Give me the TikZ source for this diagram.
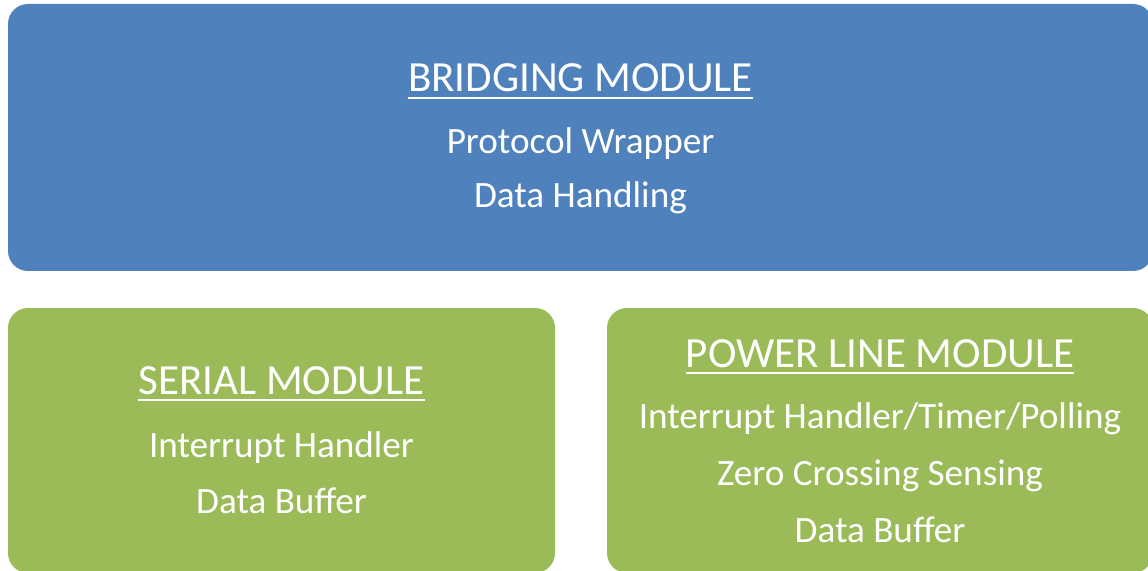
\documentclass[tikz,border=0pt]{standalone}
\usepackage{fontspec}
\setmainfont{Carlito}
\definecolor{modblue}{HTML}{4F81BD}
\definecolor{modgreen}{HTML}{9BBB59}
\tikzset{
  module/.style={rounded corners=20bp},
  heading/.style={text=white, inner sep=0pt, anchor=base, font=\fontsize{43bp}{50bp}\selectfont},
  item/.style={text=white, inner sep=0pt, anchor=base, font=\fontsize{37.2bp}{44bp}\selectfont},
  headrule/.style={draw=white, line width=2bp}
}
\begin{document}
\begin{tikzpicture}[x=1bp,y=-1bp]
  \useasboundingbox (0,0) rectangle (1148,571);
  % module panels
  \fill[modblue, module] (8,4) rectangle (1153,271);
  \fill[modgreen, module] (8,308) rectangle (555,573);
  \fill[modgreen, module] (607,308) rectangle (1153,573);

  % bridging module
  \node[heading] (bt) at (580.5,92) {BRIDGING MODULE};
  \node[item] (b1) at (580.5,154) {Protocol Wrapper};
  \node[item] (b2) at (580.5,208) {Data Handling};
  \draw[headrule] ([yshift=-6bp]bt.base west) -- ([yshift=-6bp]bt.base east);

  % serial module
  \node[heading] (st) at (281.5,394) {SERIAL MODULE};
  \node[item] (s1) at (281.5,457) {Interrupt Handler};
  \node[item] (s2) at (281.5,513) {Data Buffer};
  \draw[headrule] ([yshift=-6bp]st.base west) -- ([yshift=-6bp]st.base east);

  % power line module
  \node[heading] (pt) at (880,367) {POWER LINE MODULE};
  \node[item] (p1) at (880,428.5) {Interrupt Handler/Timer/Polling};
  \node[item] (p2) at (880,485) {Zero Crossing Sensing};
  \node[item] (p3) at (880,542) {Data Buffer};
  \draw[headrule] ([yshift=-6bp]pt.base west) -- ([yshift=-6bp]pt.base east);
\end{tikzpicture}
\end{document}
